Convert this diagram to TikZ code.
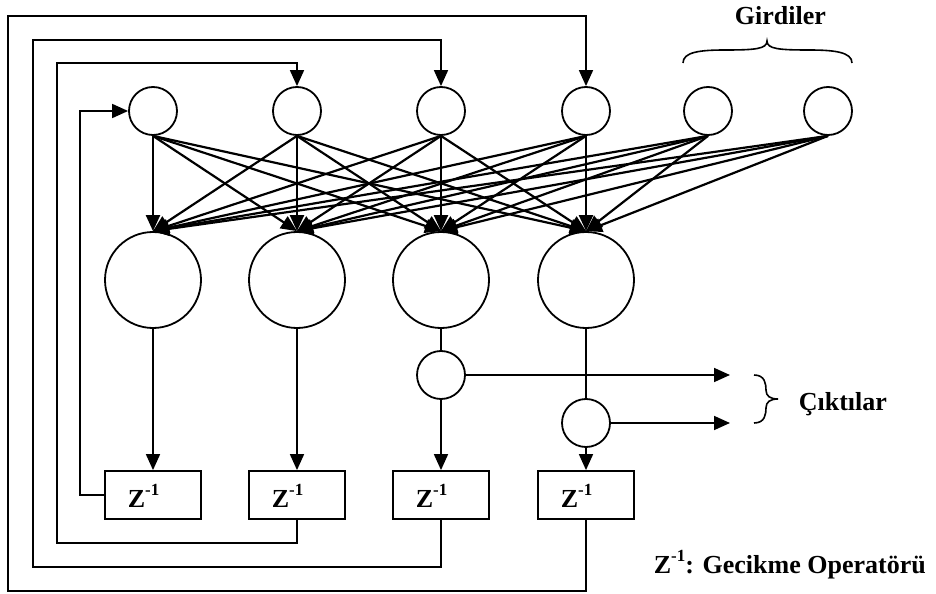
\documentclass[tikz,border=0pt]{standalone}
\usepackage{fontspec}
\setmainfont{Liberation Serif}
\usetikzlibrary{arrows.meta}
\newcommand\zinv{Z\raisebox{12bp}{\fontsize{17bp}{17bp}\selectfont -1}}
\begin{document}
\begin{tikzpicture}[x=1bp,y=-1bp,
  line width=1.7bp,
  smallc/.style={circle,draw,line width=1.8bp,minimum size=48bp,inner sep=0pt},
  bigc/.style={circle,draw,line width=1.8bp,minimum size=96bp,inner sep=0pt},
  zbox/.style={rectangle,draw,line width=1.8bp,minimum width=96bp,minimum height=48bp,inner sep=0pt},
  lbl/.style={font=\bfseries\fontsize{26bp}{30bp}\selectfont,inner sep=0pt,anchor=base west},
  arr/.style={-{Triangle[length=16bp,width=14bp]}},
  cross/.style={arr,line width=2.2bp},
  bracestyle/.style={line width=1.6bp}
]
\useasboundingbox (0,0) rectangle (936,594);
% nodes
\foreach \i/\x in {1/153,2/297,3/441,4/586,5/708,6/828}
  \node[smallc] (t\i) at (\x,111) {};
\foreach \i/\x in {1/153,2/297,3/441,4/586}
  \node[bigc] (b\i) at (\x,280) {};
\node[smallc] (o1) at (441,375) {};
\node[smallc] (o2) at (586,423) {};
\foreach \i/\x in {1/153,2/297,3/441,4/586} {
  \node[zbox] (z\i) at (\x,495) {};
  \node[lbl] (zt\i) at (\x-26,507) {\zinv};
}
% cross connections
\foreach \i in {1,...,6}
  \foreach \j in {1,...,4}
    \draw[cross] (t\i.south) -- (b\j.north);
% vertical paths
\draw[arr] (b1.south) -- (z1.north);
\draw[arr] (b2.south) -- (z2.north);
\draw (b3.south) -- (o1.north);
\draw[arr] (o1.south) -- (z3.north);
\draw (b4.south) -- (o2.north);
\draw[arr] (o2.south) -- (z4.north);
% outputs
\coordinate (out1) at (730,375);
\coordinate (out2) at (730,423);
\draw[arr] (o1.east) -- (out1);
\draw[arr] (o2.east) -- (out2);
% feedback
\draw[arr] (z1.west) -- ++(-24,0) |- (t1.west);
\draw[arr] (z2.south) |- (57,543) -- (57,63) -| (t2.north);
\draw[arr] (z3.south) |- (33,567) -- (33,40) -| (t3.north);
\draw[arr] (z4.south) |- (8,591) -- (8,16) -| (t4.north);
% braces
\draw[bracestyle] (683,63) .. controls (683,52) and (700,50) .. (725,50)
  .. controls (755,50) and (767,49) .. (767,41)
  .. controls (767,49) and (779,50) .. (809,50)
  .. controls (834,50) and (852,52) .. (852,63);
\draw[bracestyle] (754,375) .. controls (765,375) and (766,384) .. (766,390)
  .. controls (766,396) and (770,399) .. (778,399)
  .. controls (770,399) and (766,402) .. (766,408)
  .. controls (766,414) and (765,423) .. (754,423);
% texts
\node[lbl] (gird) at (734,25) {Girdiler};
\node[lbl] (cikt) at (798,410) {Çıktılar};
\node[lbl] (leg) at (653,573) {\zinv: Gecikme Operatörü};
\end{tikzpicture}
\end{document}
